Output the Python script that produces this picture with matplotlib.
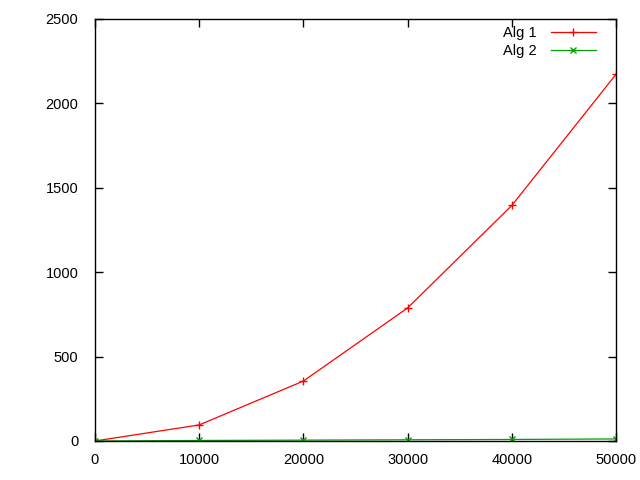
import matplotlib
matplotlib.use("Agg")
from matplotlib import pyplot as plt

# data
sizes = [0, 10000, 20000, 30000, 40000, 50000]
alg1 = [0, 95, 355, 788, 1395, 2172]
alg2 = [0, 3, 5, 7, 9, 12]
xticks = [0, 10000, 20000, 30000, 40000, 50000]
yticks = [0, 500, 1000, 1500, 2000, 2500]

plt.rcParams['font.family'] = ['Liberation Sans', 'DejaVu Sans']
plt.rcParams['font.size'] = 10.5

fig = plt.figure(figsize=(6.4, 4.8), dpi=100)
ax = fig.add_axes([0.1484, 0.0813, 0.8141, 0.8792])

ax.plot(sizes, alg1, color='#ff0000', lw=0.9, marker='+', ms=6, mew=1, label='Alg 1')
ax.plot(sizes, alg2, color='#00a000', lw=0.9, marker='x', ms=4.5, mew=1, label='Alg 2')

ax.set_xlim(0, 50000)
ax.set_ylim(0, 2500)
ax.set_xticks(xticks)
ax.set_yticks(yticks)
# gnuplot style: ticks inside, mirrored on all sides
ax.tick_params(direction='in', length=6, width=1, top=True, right=True)
ax.tick_params(axis='y', pad=12)
ax.tick_params(axis='x', pad=9)
for s in ax.spines.values():
    s.set_linewidth(1)

leg = ax.legend(loc='upper right', bbox_to_anchor=(0.9616, 0.9834),
                frameon=False, markerfirst=False, handlelength=3.1,
                borderaxespad=0, borderpad=0, labelspacing=0.3,
                handletextpad=1.0)

fig.savefig('out.png', dpi=100)
